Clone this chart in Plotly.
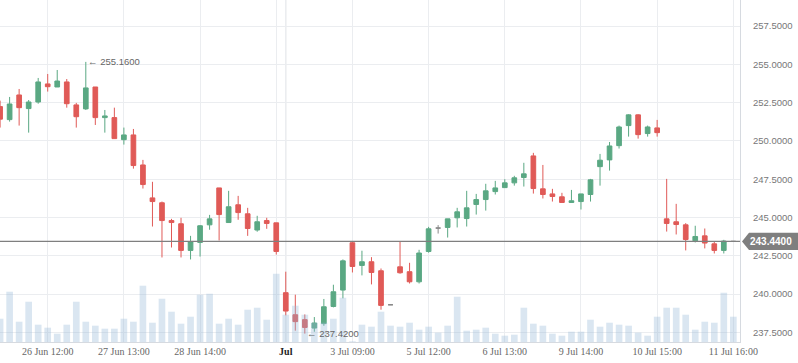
import plotly.graph_objects as go

# ---------------- data ----------------
session_days = ["2018-06-25", "2018-06-26", "2018-06-27", "2018-06-28", "2018-06-29",
                "2018-07-02", "2018-07-03", "2018-07-05", "2018-07-06", "2018-07-09",
                "2018-07-10", "2018-07-11"]
session_hours = [[14, 15], list(range(9, 16)), list(range(9, 16)), list(range(9, 16)),
                 list(range(9, 16)), list(range(9, 16)), list(range(9, 14)),
                 list(range(9, 16)), list(range(9, 16)), list(range(9, 16)),
                 list(range(9, 16)), list(range(9, 17))]
times = [f"{d} {h:02d}:00" for d, hs in zip(session_days, session_hours) for h in hs]

open_ = [252.24, 251.39, 253.00, 252.11, 252.54, 253.72, 253.52, 253.85, 252.35, 252.09,
         253.52, 251.52, 251.52, 250.08, 250.39, 248.43, 246.28, 245.96, 244.80, 244.59,
         242.85, 243.37, 244.52, 246.93, 244.67, 245.83, 245.24, 244.18, 244.80, 244.65,
         240.09, 238.65, 238.33, 237.78, 238.07, 239.19, 240.26, 243.35, 241.87, 242.11,
         241.52, 239.30, 241.78, 241.46, 240.80, 242.78, 244.31, 244.35, 244.98, 244.93,
         245.85, 246.17, 246.69, 246.95, 247.26, 247.61, 249.02, 246.87, 246.54, 246.35,
         245.98, 246.04, 246.50, 248.32, 248.76, 249.69, 251.00, 251.70, 250.48, 250.85,
         244.91, 244.72, 244.52, 243.48, 243.80, 243.28, 242.85, 243.44]
high = [252.63, 252.87, 253.39, 252.67, 254.11, 254.37, 254.63, 254.04, 252.48, 255.16,
        253.52, 252.02, 252.17, 250.87, 250.78, 248.76, 247.33, 246.04, 244.91, 244.98,
        243.80, 244.50, 245.17, 246.93, 246.74, 246.41, 245.63, 245.11, 244.98, 244.65,
        241.46, 239.96, 238.67, 238.50, 239.68, 240.61, 242.26, 243.43, 242.83, 242.41,
        241.67, 239.30, 243.43, 242.04, 242.89, 244.39, 244.50, 244.91, 245.63, 246.74,
        246.54, 247.20, 247.39, 247.50, 247.72, 248.57, 249.22, 248.43, 246.87, 246.61,
        246.80, 246.54, 247.52, 249.15, 249.93, 251.00, 251.74, 251.74, 251.00, 251.37,
        247.52, 245.89, 244.63, 244.46, 244.28, 243.43, 243.54, 243.44]
low = [250.87, 251.26, 251.00, 250.54, 252.43, 253.22, 253.52, 252.17, 250.87, 252.02,
       251.04, 250.54, 250.15, 249.76, 248.19, 246.89, 244.41, 242.39, 243.04, 242.39,
       242.26, 242.45, 244.20, 243.50, 244.67, 244.85, 243.80, 244.07, 244.26, 242.58,
       238.61, 237.61, 237.42, 237.54, 237.93, 239.13, 239.72, 241.41, 241.22, 240.63,
       238.98, 239.30, 241.33, 240.69, 240.69, 242.70, 243.95, 243.69, 244.35, 244.41,
       245.19, 245.45, 246.50, 246.93, 247.08, 247.02, 246.56, 246.24, 246.04, 245.98,
       245.98, 245.52, 246.04, 247.08, 248.06, 249.50, 250.28, 250.15, 250.28, 250.28,
       244.08, 243.89, 242.85, 243.37, 242.98, 242.65, 242.65, 243.44]
close = [251.42, 252.41, 252.17, 252.54, 253.85, 253.54, 253.91, 252.43, 251.58, 253.46,
         251.52, 251.63, 250.15, 250.39, 248.39, 247.15, 246.04, 244.80, 244.67, 242.85,
         243.43, 244.46, 244.91, 245.19, 245.70, 245.32, 244.28, 244.72, 244.61, 242.78,
         238.89, 238.20, 237.82, 238.11, 239.17, 240.15, 242.17, 241.80, 242.11, 241.41,
         239.26, 239.30, 241.39, 240.80, 242.68, 244.26, 244.31, 244.91, 245.37, 245.63,
         246.17, 246.74, 246.93, 247.26, 247.59, 247.85, 246.89, 246.50, 246.37, 245.98,
         246.09, 246.54, 247.46, 248.74, 249.67, 250.91, 251.70, 250.41, 250.91, 250.54,
         244.61, 244.54, 243.56, 243.76, 243.33, 242.85, 243.46, 243.44]
volume = [70, 151, 61, 121, 52, 43, 25, 52, 121, 61,
          49, 40, 40, 70, 61, 169, 58, 130, 91, 55,
          76, 142, 145, 55, 70, 52, 97, 103, 67, 205,
          82, 109, 82, 58, 58, 70, 133, 2, 52, 46,
          91, 49, 46, 58, 37, 46, 28, 49, 136, 34,
          37, 43, 25, 19, 22, 103, 55, 49, 25, 19,
          31, 31, 67, 46, 58, 52, 49, 28, 19, 76,
          103, 103, 82, 37, 61, 58, 148, 76]
volume = [v * 1000 for v in volume]

tick_times = ["2018-06-26 12:00", "2018-06-27 13:00", "2018-06-28 14:00", "2018-06-29 15:00",
              "2018-07-02 09:00", "2018-07-03 09:00", "2018-07-05 12:00", "2018-07-06 13:00",
              "2018-07-09 14:00", "2018-07-10 15:00", "2018-07-11 16:00"]
tick_text = ["26 Jun 12:00", "27 Jun 13:00", "28 Jun 14:00", "",
             "<span style='color:#222222'><b>Jul</b></span>", "3 Jul 09:00",
             "5 Jul 12:00", "6 Jul 13:00", "9 Jul 14:00", "10 Jul 15:00", "11 Jul 16:00"]
month_boundary = "2018-07-02 09:00"
price_ticks = [237.5, 240.0, 242.5, 245.0, 247.5, 250.0, 252.5, 255.0, 257.5]

# ---------------- styles ----------------
UP = "#5aa883"
DOWN = "#e05a57"
DOJI = "#888888"
GRID = "#ebedf0"
AXIS = "#d6dae0"

trend_idx = [i for i in range(len(times)) if open_[i] != close[i]]
doji_idx = [i for i in range(len(times)) if open_[i] == close[i]]

def pick(arr, idx):
    return [arr[i] for i in idx]

fig = go.Figure()
fig.add_trace(go.Candlestick(
    x=pick(times, trend_idx), open=pick(open_, trend_idx), high=pick(high, trend_idx),
    low=pick(low, trend_idx), close=pick(close, trend_idx),
    increasing=dict(line=dict(color=UP, width=1), fillcolor=UP),
    decreasing=dict(line=dict(color=DOWN, width=1), fillcolor=DOWN),
    showlegend=False, hoverinfo="skip"))
fig.add_trace(go.Candlestick(
    x=pick(times, doji_idx), open=pick(open_, doji_idx), high=pick(high, doji_idx),
    low=pick(low, doji_idx), close=pick(close, doji_idx),
    increasing=dict(line=dict(color=DOJI, width=1), fillcolor=DOJI),
    decreasing=dict(line=dict(color=DOJI, width=1), fillcolor=DOJI),
    showlegend=False, hoverinfo="skip"))
fig.add_trace(go.Bar(
    x=times, y=volume, yaxis="y2", width=0.7,
    marker=dict(color="rgba(150,182,214,0.35)", line=dict(width=0)),
    showlegend=False, hoverinfo="skip"))

last = close[-1]
imax = max(range(len(high)), key=lambda i: high[i])
imin = min(range(len(low)), key=lambda i: low[i])

shapes = [
    dict(type="line", xref="x", yref="paper", x0=month_boundary, x1=month_boundary,
         y0=0, y1=1, line=dict(color="#d2d4d8", width=1), layer="below"),
    dict(type="line", xref="paper", yref="y", x0=0, x1=1, y0=last, y1=last,
         line=dict(color="#7f7f7f", width=1.3), layer="above"),
    dict(type="path", xref="paper", yref="y", xsizemode="pixel", ysizemode="pixel",
         xanchor=1, yanchor=last,
         path="M 2,0 L 9,8.7 L 62,8.7 L 62,-8.7 L 9,-8.7 Z",
         fillcolor="#7f7f7f", line=dict(width=0), layer="above"),
]

annotations = [
    dict(x=times[imax], y=high[imax], xref="x", yref="y", text=f"\u2190 {high[imax]:.4f}",
         showarrow=False, xanchor="left", yanchor="middle", xshift=0,
         font=dict(family="Liberation Sans", size=9.5, color="#666666")),
    dict(x=times[imin], y=low[imin], xref="x", yref="y", text=f"\u2190 {low[imin]:.4f}",
         showarrow=False, xanchor="left", yanchor="middle", xshift=0,
         font=dict(family="Liberation Sans", size=9.5, color="#666666")),
    dict(x=1, y=last, xref="paper", yref="y", text=f"<b>{last:.4f}</b>",
         showarrow=False, xanchor="left", yanchor="middle", xshift=8,
         font=dict(family="Liberation Sans", size=10, color="#ffffff")),
]

fig.update_layout(
    width=798, height=363,
    margin=dict(l=0, r=58, t=0, b=21, autoexpand=False),
    paper_bgcolor="white", plot_bgcolor="white",
    showlegend=False,
    shapes=shapes, annotations=annotations,
    xaxis=dict(type="category", categoryorder="array", categoryarray=times,
               range=[-0.01, 77.7], rangeslider=dict(visible=False),
               tickmode="array", tickvals=tick_times, ticktext=tick_text,
               showgrid=True, gridcolor=GRID, gridwidth=1, automargin=False,
               showline=True, linecolor=AXIS, linewidth=1, ticks="",
               tickfont=dict(family="Liberation Serif", size=10, color="#666666"),
               fixedrange=True),
    yaxis=dict(side="right", range=[236.87, 259.2], tickmode="array", tickvals=price_ticks,
               tickformat=".4f", showgrid=True, gridcolor=GRID, gridwidth=1,
               showline=True, linecolor=AXIS, linewidth=1, ticks="", zeroline=False,
               ticklabelstandoff=10, automargin=False,
               tickfont=dict(family="Liberation Sans", size=9.5, color="#777777"),
               fixedrange=True),
    yaxis2=dict(overlaying="y", range=[0, 1027000], visible=False, fixedrange=True,
                automargin=False),
    bargap=0.3,
)

fig.write_html("out.html", config={"displayModeBar": False},
               post_script="document.body.style.margin='0';document.body.style.overflow='hidden';")
